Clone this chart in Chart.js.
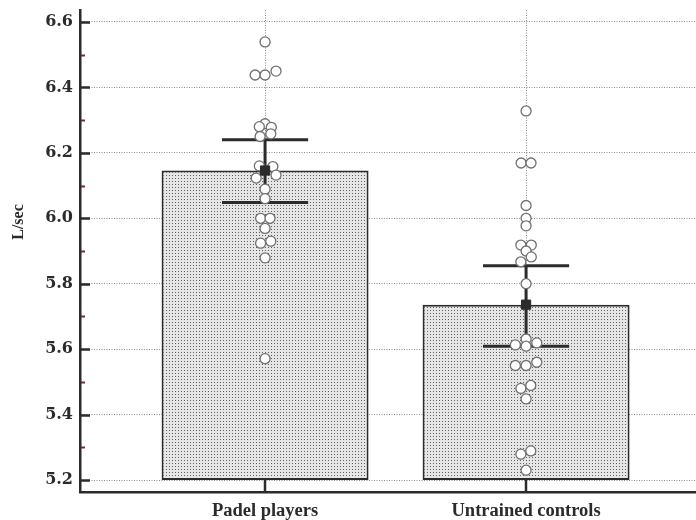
<!DOCTYPE html>
<html>
<head>
<meta charset="utf-8">
<script src="https://cdn.jsdelivr.net/npm/chart.js@4.4.1/dist/chart.umd.min.js"></script>
<style>
    html, body { margin: 0; padding: 0; background: #fff; }
    #chart { display: block; }
</style>
</head>
<body>
<canvas id="chart" width="696" height="520"></canvas>
<script>
// groups and summary values (mean +/- error)
const groups = ['Padel players', 'Untrained controls'];
const means = [6.146, 5.736];
const errUpper = [6.240, 5.855];
const errLower = [6.048, 5.609];
const barBase = 5.2;

// individual subjects, with the small sideways jitter of the dot plot (category units)
const padelValues = [6.539, 6.438, 6.438, 6.450, 6.289, 6.280, 6.278, 6.250, 6.258,
    6.160, 6.158, 6.132, 6.123, 6.089, 6.060, 6.000, 6.000, 5.969, 5.924, 5.930, 5.879, 5.571];
const padelJitter = [0, -0.038, 0, 0.042, 0, -0.022, 0.024, -0.019, 0.022,
    -0.022, 0.030, 0.042, -0.034, 0, 0, -0.017, 0.019, 0, -0.017, 0.022, 0, 0];
const controlValues = [6.328, 6.169, 6.169, 6.039, 6.000, 5.977, 5.918, 5.918, 5.900, 5.882, 5.867,
    5.800, 5.631, 5.613, 5.609, 5.619, 5.550, 5.550, 5.560, 5.480, 5.489, 5.448, 5.279, 5.289, 5.230];
const controlJitter = [0, -0.019, 0.019, 0, 0, 0, -0.020, 0.020, 0, 0.020, -0.020,
    0, 0, -0.041, 0, 0.041, -0.041, 0, 0.041, -0.020, 0.018, 0, -0.020, 0.018, 0];

const yTicks = [5.2, 5.4, 5.6, 5.8, 6.0, 6.2, 6.4, 6.6];
const yMinorTicks = [5.3, 5.5, 5.7, 5.9, 6.1, 6.3, 6.5];
const yTitle = 'L/sec';

const serif = "'Liberation Serif', 'Times New Roman', serif";
const wideSerif = "'DejaVu Serif', serif";
const dark = '#2b2b2b';

// stippled fill like the original bars
function makePattern() {
    const c = document.createElement('canvas');
    c.width = 3;
    c.height = 3;
    const g = c.getContext('2d');
    g.fillStyle = '#e6e6e6';
    g.fillRect(0, 0, 3, 3);
    g.fillStyle = '#606060';
    g.fillRect(1, 1, 1, 1);
    return g.createPattern(c, 'repeat');
}

// error bars, drawn right after the bars so the dots sit on top
const errorBarPlugin = {
    id: 'errorBars',
    afterDatasetDraw(chart, args) {
        if (args.index !== 0) return;
        const { ctx, scales: { x, y } } = chart;
        ctx.save();
        ctx.strokeStyle = dark;
        ctx.lineWidth = 3;
        groups.forEach((g, i) => {
            const cx = x.getPixelForValue(i);
            const capL = x.getPixelForValue(i - 0.165);
            const capR = x.getPixelForValue(i + 0.165);
            const yt = y.getPixelForValue(errUpper[i]);
            const yb = y.getPixelForValue(errLower[i]);
            ctx.beginPath();
            ctx.moveTo(cx, yt);
            ctx.lineTo(cx, yb);
            ctx.moveTo(capL, yt);
            ctx.lineTo(capR, yt);
            ctx.moveTo(capL, yb);
            ctx.lineTo(capR, yb);
            ctx.stroke();
        });
        ctx.restore();
    }
};

// tick marks pointing into the plot, and the y title (sits a bit above centre in the original)
const innerTicksPlugin = {
    id: 'innerTicks',
    afterDraw(chart) {
        const { ctx, chartArea, scales: { x, y } } = chart;
        ctx.save();
        ctx.lineWidth = 2.5;
        ctx.strokeStyle = dark;
        ctx.beginPath();
        yTicks.forEach(v => {
            const py = Math.round(y.getPixelForValue(v)) + 0.5;
            ctx.moveTo(chartArea.left, py);
            ctx.lineTo(chartArea.left + 10, py);
        });
        groups.forEach((g, i) => {
            const px = Math.round(x.getPixelForValue(i));
            ctx.moveTo(px, chartArea.bottom);
            ctx.lineTo(px, chartArea.bottom - 12);
        });
        ctx.stroke();
        ctx.strokeStyle = '#7a2a2a';
        ctx.lineWidth = 2;
        ctx.beginPath();
        yMinorTicks.forEach(v => {
            const py = Math.round(y.getPixelForValue(v)) + 0.5;
            ctx.moveTo(chartArea.left + 1, py);
            ctx.lineTo(chartArea.left + 5, py);
        });
        ctx.stroke();

        ctx.translate(19, (chartArea.top + chartArea.bottom) / 2 - 29);
        ctx.rotate(-Math.PI / 2);
        ctx.font = 'bold 16px ' + serif;
        ctx.fillStyle = dark;
        ctx.textAlign = 'center';
        ctx.textBaseline = 'middle';
        ctx.fillText(yTitle, 0, 0);
        ctx.restore();
    }
};

const ctx = document.getElementById('chart').getContext('2d');

new Chart(ctx, {
    data: {
        datasets: [
            {
                type: 'bar',
                data: groups.map((g, i) => ({ x: i, y: [barBase, means[i]] })),
                backgroundColor: makePattern(),
                borderColor: dark,
                borderWidth: 2,
                borderSkipped: false,
                barPercentage: 0.793,
                categoryPercentage: 1,
                order: 3
            },
            {
                type: 'scatter',
                data: padelValues.map((v, i) => ({ x: 0 + padelJitter[i], y: v }))
                    .concat(controlValues.map((v, i) => ({ x: 1 + controlJitter[i], y: v }))),
                pointRadius: 5,
                pointBackgroundColor: '#ffffff',
                pointBorderColor: '#707070',
                pointBorderWidth: 1.3,
                order: 2
            },
            {
                type: 'scatter',
                data: means.map((m, i) => ({ x: i, y: m })),
                pointStyle: 'rect',
                pointRadius: 6.5,
                pointBackgroundColor: dark,
                pointBorderColor: dark,
                pointBorderWidth: 1,
                order: 1
            }
        ]
    },
    options: {
        responsive: false,
        animation: false,
        layout: {
            autoPadding: false,
            padding: { top: 10, right: 0, left: 0, bottom: 0 }
        },
        plugins: {
            legend: { display: false },
            tooltip: { enabled: false }
        },
        scales: {
            x: {
                type: 'linear',
                min: -0.709,
                max: 1.651,
                offset: false,
                afterBuildTicks: scale => {
                    scale.ticks = groups.map((g, i) => ({ value: i }));
                },
                afterFit: scale => {
                    scale.height = 28;
                    scale.paddingLeft = 0;
                    scale.paddingRight = 0;
                },
                ticks: {
                    callback: v => groups[v],
                    font: { family: serif, size: 18.5, weight: 'bold' },
                    color: dark,
                    padding: 8,
                    maxRotation: 0
                },
                grid: {
                    color: '#8a8a8a',
                    lineWidth: 1,
                    offset: false,
                    drawTicks: false
                },
                border: { color: dark, width: 2.5, dash: [1, 1.5] }
            },
            y: {
                type: 'linear',
                min: 5.1634,
                max: 6.6366,
                afterBuildTicks: scale => {
                    scale.ticks = yTicks.map(v => ({ value: v }));
                },
                afterFit: scale => {
                    scale.width = 80;
                    scale.paddingTop = 0;
                    scale.paddingBottom = 0;
                },
                ticks: {
                    callback: v => v.toFixed(1),
                    font: { family: wideSerif, size: 16, weight: 'bold' },
                    color: dark,
                    padding: 7
                },
                grid: {
                    color: '#8a8a8a',
                    lineWidth: 1,
                    drawTicks: false
                },
                border: { color: dark, width: 2.5, dash: [1, 1.5] }
            }
        }
    },
    plugins: [errorBarPlugin, innerTicksPlugin]
});
</script>
</body>
</html>
